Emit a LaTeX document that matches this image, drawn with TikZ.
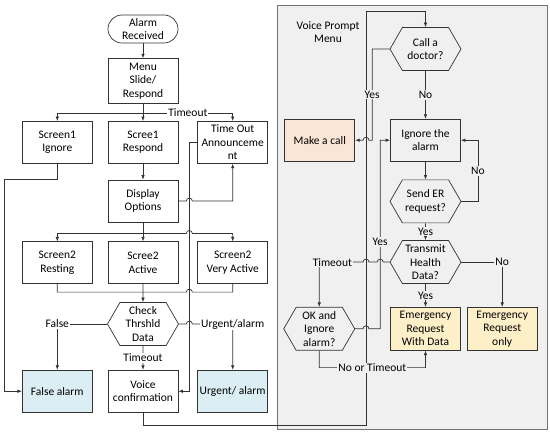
\documentclass[tikz,border=0pt]{standalone}
\usepackage{fontspec}
\setmainfont{Carlito}
\usetikzlibrary{positioning,shapes.symbols,arrows.meta}

\definecolor{panel}{HTML}{F0F0F0}
\definecolor{alarmblue}{HTML}{DAEEF3}
\definecolor{callpeach}{HTML}{FBE5D6}
\definecolor{eryellow}{HTML}{FDF0C8}
\definecolor{wire}{HTML}{333333}

\tikzset{
  box/.style={draw=wire, minimum width=70pt, minimum height=42pt, align=center, inner sep=1pt},
  term/.style={box, rounded corners=14pt, minimum height=28pt},
  hexa/.style={draw=wire, signal, signal to=west and east, signal pointer angle=120,
    minimum width=71pt, minimum height=43pt, align=center, inner sep=0pt},
  panelbox/.style={draw=black!55, fill=panel, line width=0.9pt, minimum width=270pt, minimum height=424pt},
  lbl/.style={fill=white, inner sep=1pt},
  plbl/.style={fill=panel, inner sep=1pt},
  hopr/.style={insert path={arc[start angle=180, end angle=0, radius=3pt]}},
  hopl/.style={insert path={arc[start angle=0, end angle=180, radius=3pt]}}
}

\begin{document}
\begin{tikzpicture}[x=1pt, y=-1pt, line width=0.7pt, draw=wire,
    >={Latex[length=4.5pt,width=3.5pt]}, font=\fontsize{11.5}{13.5}\selectfont]
  \useasboundingbox (0,0) rectangle (550,433);

  % voice prompt panel
  \node[panelbox] (vpanel) at (412,217) {};
  \node[align=center] (vpm) at (328,32) {Voice Prompt\\Menu};

  % left column
  \node[term] (alarm) at (143,29) {Alarm\\Received};
  \node[box, minimum height=45pt] (menu) [below=15pt of alarm] {Menu\\Slide/\\Respond};
  \node[box] (s1resp) [below=17pt of menu] {Scree1\\Respond};
  \node[box] (s1ign) [left=15pt of s1resp] {Screen1\\Ignore};
  \node[box] (tout) [right=19pt of s1resp] {Time Out\\Announceme\\nt};
  \node[box] (disp) [below=16pt of s1resp] {Display\\Options};
  \node[box] (s2act) [below=19pt of disp] {Scree2\\Active};
  \node[box] (s2rest) [left=15pt of s2act] {Screen2\\Resting};
  \node[box] (s2very) [right=19pt of s2act] {Screen2\\Very Active};
  \node[hexa] (check) [below=18pt of s2act] {Check\\Thrshld\\Data};
  \node[box] (voice) [below=24pt of check] {Voice\\confirmation};
  \node[box, fill=alarmblue] (falsea) [left=15pt of voice] {False alarm};
  \node[box, fill=alarmblue] (urgent) [right=19pt of voice] {Urgent/ alarm};

  % right column
  \node[hexa] (doctor) at (425.5,49) {Call a\\doctor?};
  \node[box] (ignore) [below=48pt of doctor] {Ignore the\\alarm};
  \node[box, fill=callpeach] (call) [left=35pt of ignore] {Make a call};
  \node[hexa] (sender) [below=18pt of ignore] {Send ER\\request?};
  \node[hexa] (transmit) [below=17pt of sender] {Transmit\\Health\\Data?};
  \node[box, fill=eryellow, minimum height=43pt] (erdata) [below=23pt of transmit] {Emergency\\Request\\With Data};
  \node[box, fill=eryellow, minimum height=43pt] (eronly) [right=6pt of erdata] {Emergency\\Request\\only};
  \node[hexa] (okign) [left=35pt of erdata] {OK and\\Ignore\\alarm?};

  % helper points
  \coordinate (b1) at ([yshift=-9pt]menu.south);
  \coordinate (vtop) at ([xshift=-8pt]tout.west);
  \coordinate (lft) at (4,179);
  \coordinate (b2) at ([yshift=-11pt]disp.south);
  \coordinate (m2) at ([yshift=-8pt]s2act.south);
  \coordinate (vb) at (366,425);
  \coordinate (vt) at (366,11);
  \coordinate (yd) at ([xshift=-18pt]ignore.west);
  \coordinate (nc) at ([xshift=17pt]ignore.east);
  \coordinate (yc) at ([xshift=-10pt]ignore.west |- okign.east);
  \coordinate (tc) at (okign.north |- transmit.west);
  \coordinate (nt) at ([yshift=-17pt]okign.south);

  % left wiring
  \draw[->] (alarm) -- (menu);
  \draw[->] (menu) -- (s1resp);
  \draw[->] (b1) -| (s1ign);
  \draw[->] (b1) -| node[lbl, pos=0.25] {Timeout} (tout);
  \draw[->] (s1ign) |- (lft) |- (falsea);
  \draw[->] (s1resp) -- (disp);
  \draw[->] (disp.east) -- ([xshift=-3pt]vtop |- disp.east) [hopr] -| (tout);
  \draw[->] (tout.west) -- (vtop) |- (voice);
  \draw[->] (disp) -- (s2act);
  \draw[->] (b2) -| (s2rest);
  \draw[->] (b2) -- ([xshift=-3pt]vtop |- b2) [hopr] -| (s2very);
  \draw (s2rest) |- ([xshift=-3pt]vtop |- m2) [hopr] -| (s2very);
  \draw[->] (s2act) -- (check);
  \draw[->] (check) -| node[lbl, pos=0.5] {False} (falsea);
  \draw[->] (check) -- node[lbl] {Timeout} (voice);
  \draw[->] (check.east) -- ([xshift=-3pt]vtop |- check.east) [hopr] -| node[lbl, pos=0.5] {Urgent/alarm} (urgent);
  \draw[->] (voice) |- (vb) -- (vt) -| (doctor);

  % voice prompt wiring
  \draw[->] (doctor) -| node[plbl, pos=0.75] {Yes} (yd) -- ([xshift=3pt]vt |- yd) [hopl] -- (call);
  \draw[->] (doctor) -- node[plbl] {No} (ignore);
  \draw[->] (ignore) -- (sender);
  \draw[->] (sender) -| node[plbl, pos=0.75] {No} (nc) -- (ignore);
  \draw[->] (sender) -- node[plbl] {Yes} (transmit);
  \draw[->] (transmit) -- node[plbl] {Yes} (erdata);
  \draw[->] (transmit) -| node[plbl, pos=0.5] {No} (eronly);
  \draw[->] (transmit.west) -- ([xshift=3pt]yc |- transmit.west) [hopl]
    -- ([xshift=3pt]vt |- transmit.west) [hopl] -- node[plbl, pos=0.7] {Timeout} (tc) -- (okign);
  \draw[->] (okign.east) -- ([xshift=-3pt]vt |- okign.east) [hopr] -- (yc) |- node[plbl, pos=0.23] {Yes} (ignore);
  \draw[->] (okign) -- (nt) -| node[plbl, pos=0.25] {No or Timeout} (erdata);
\end{tikzpicture}
\end{document}
